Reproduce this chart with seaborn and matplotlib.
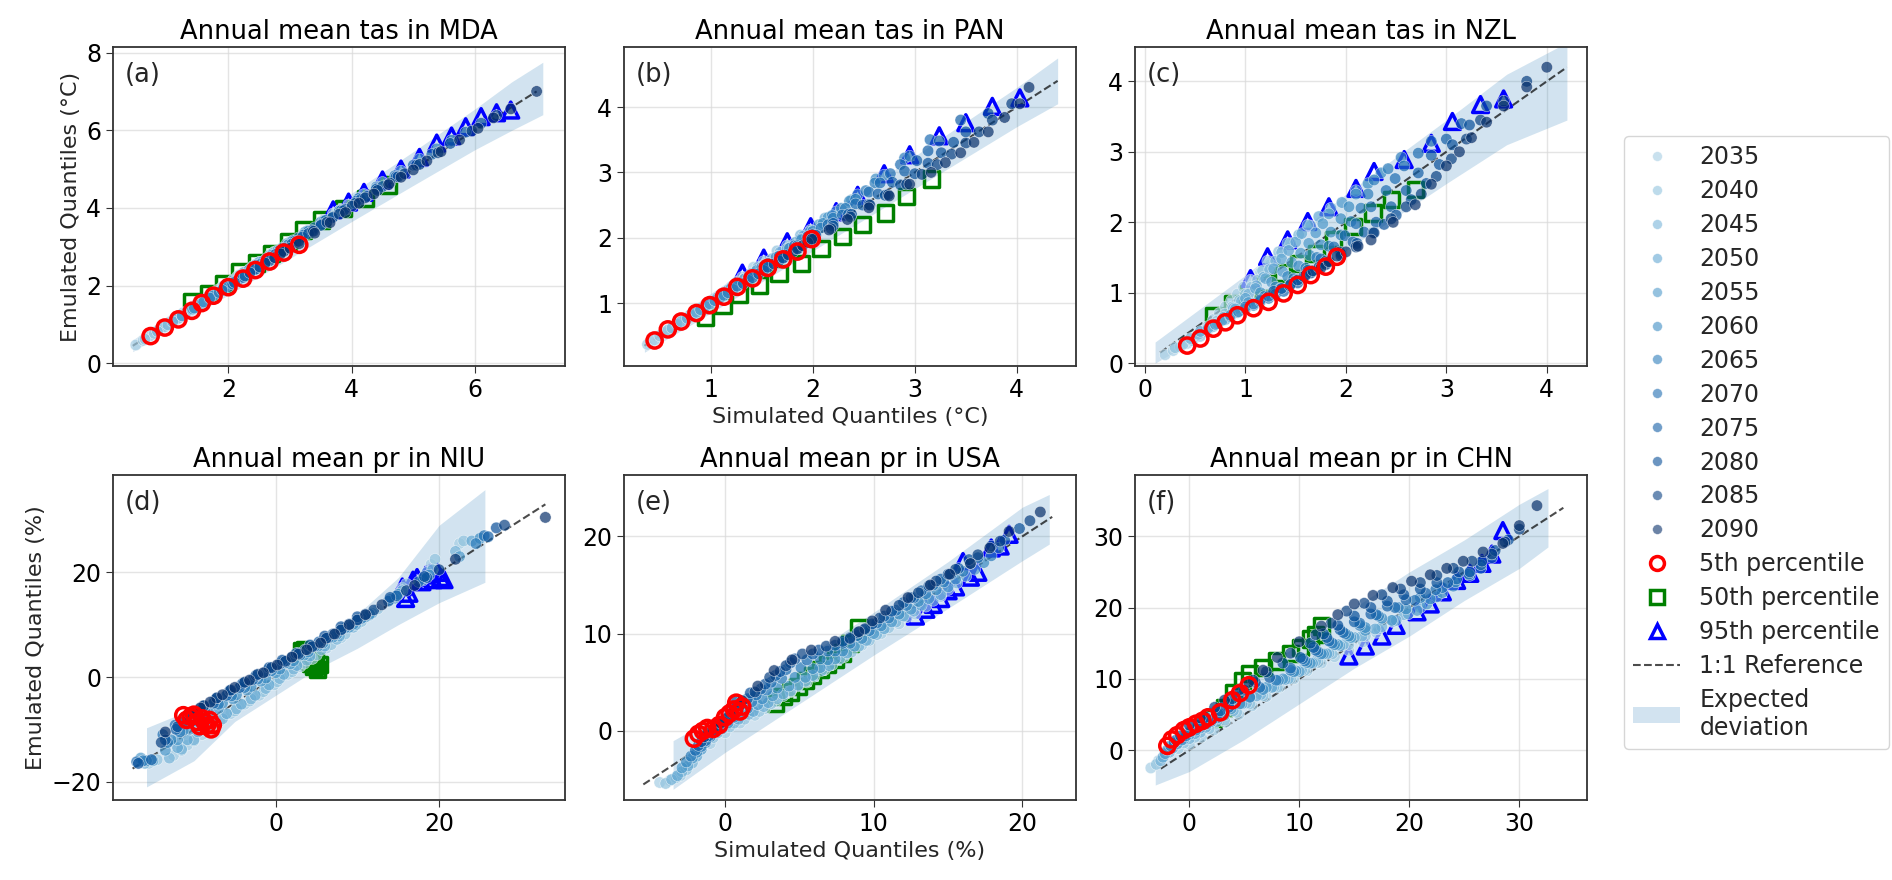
import matplotlib
matplotlib.use("Agg")
import matplotlib.pyplot as plt
from matplotlib.lines import Line2D
from matplotlib.patches import Patch
import numpy as np
import pandas as pd
import seaborn as sns

years = [2035, 2040, 2045, 2050, 2055, 2060, 2065, 2070, 2075, 2080, 2085, 2090]

# ---------------- (a) Annual mean tas in MDA ----------------
a_sim = [
    [0.50, 0.62, 0.74, 0.85, 0.95, 1.05, 1.15, 1.27, 1.41, 1.55, 1.70, 1.90, 2.15, 2.50, 3.00, 3.70],
    [0.65, 0.80, 0.97, 1.08, 1.20, 1.31, 1.42, 1.55, 1.68, 1.82, 1.98, 2.18, 2.40, 2.75, 3.30, 3.95],
    [0.85, 1.02, 1.19, 1.32, 1.45, 1.57, 1.68, 1.80, 1.92, 2.08, 2.25, 2.45, 2.68, 3.00, 3.55, 4.20],
    [1.10, 1.25, 1.41, 1.55, 1.68, 1.82, 1.95, 2.07, 2.19, 2.35, 2.50, 2.72, 2.95, 3.25, 3.80, 4.50],
    [1.25, 1.42, 1.57, 1.73, 1.90, 2.05, 2.20, 2.33, 2.46, 2.62, 2.80, 3.02, 3.25, 3.55, 4.10, 4.80],
    [1.45, 1.60, 1.76, 1.93, 2.10, 2.26, 2.42, 2.56, 2.70, 2.88, 3.05, 3.28, 3.50, 3.82, 4.40, 5.10],
    [1.70, 1.85, 2.00, 2.18, 2.35, 2.52, 2.68, 2.83, 2.97, 3.14, 3.30, 3.55, 3.80, 4.12, 4.70, 5.38],
    [1.90, 2.07, 2.24, 2.42, 2.60, 2.76, 2.92, 3.07, 3.22, 3.40, 3.58, 3.83, 4.08, 4.40, 5.00, 5.62],
    [2.10, 2.27, 2.44, 2.65, 2.85, 3.03, 3.20, 3.36, 3.51, 3.70, 3.90, 4.15, 4.40, 4.72, 5.30, 5.85],
    [2.35, 2.51, 2.67, 2.88, 3.10, 3.30, 3.50, 3.69, 3.87, 4.06, 4.25, 4.50, 4.75, 5.05, 5.60, 6.10],
    [2.60, 2.75, 2.90, 3.14, 3.38, 3.60, 3.80, 4.01, 4.22, 4.42, 4.62, 4.86, 5.10, 5.40, 5.95, 6.35],
    [2.85, 3.00, 3.15, 3.40, 3.65, 3.90, 4.12, 4.36, 4.60, 4.80, 5.00, 5.22, 5.45, 5.75, 6.05, 6.30, 6.58, 7.00],
]
a_emu = [
    [0.47, 0.59, 0.71, 0.83, 0.94, 1.06, 1.17, 1.30, 1.45, 1.60, 1.76, 1.97, 2.24, 2.60, 3.11, 3.85],
    [0.62, 0.77, 0.94, 1.07, 1.20, 1.32, 1.45, 1.59, 1.73, 1.88, 2.05, 2.27, 2.50, 2.87, 3.42, 4.08],
    [0.82, 0.99, 1.16, 1.31, 1.44, 1.58, 1.70, 1.84, 1.98, 2.15, 2.34, 2.55, 2.80, 3.12, 3.68, 4.35],
    [1.07, 1.22, 1.38, 1.53, 1.67, 1.83, 1.98, 2.12, 2.26, 2.43, 2.60, 2.83, 3.08, 3.38, 3.93, 4.66],
    [1.22, 1.40, 1.55, 1.72, 1.90, 2.07, 2.24, 2.39, 2.53, 2.70, 2.90, 3.13, 3.38, 3.68, 4.24, 4.95],
    [1.42, 1.58, 1.74, 1.92, 2.10, 2.28, 2.46, 2.62, 2.78, 2.97, 3.16, 3.40, 3.63, 3.95, 4.54, 5.26],
    [1.68, 1.82, 1.97, 2.17, 2.36, 2.55, 2.73, 2.90, 3.05, 3.23, 3.40, 3.66, 3.92, 4.25, 4.83, 5.52],
    [1.88, 2.04, 2.21, 2.41, 2.62, 2.80, 2.97, 3.14, 3.30, 3.49, 3.68, 3.93, 4.18, 4.50, 5.10, 5.74],
    [2.08, 2.25, 2.42, 2.66, 2.88, 3.07, 3.25, 3.42, 3.58, 3.77, 3.97, 4.22, 4.48, 4.80, 5.38, 5.95],
    [2.33, 2.48, 2.64, 2.87, 3.12, 3.34, 3.55, 3.75, 3.93, 4.12, 4.30, 4.55, 4.80, 5.10, 5.66, 6.18],
    [2.58, 2.72, 2.88, 3.14, 3.40, 3.63, 3.84, 4.05, 4.26, 4.45, 4.64, 4.88, 5.12, 5.42, 5.98, 6.38],
    [2.82, 2.96, 3.08, 3.35, 3.62, 3.88, 4.12, 4.36, 4.60, 4.79, 4.98, 5.21, 5.45, 5.75, 6.05, 6.32, 6.55, 7.00],
]
a_p5x = [0.74, 0.97, 1.19, 1.41, 1.57, 1.76, 2.00, 2.24, 2.44, 2.67, 2.90, 3.15]
a_p5y = [0.70, 0.92, 1.13, 1.35, 1.55, 1.74, 1.96, 2.18, 2.40, 2.62, 2.85, 3.05]
a_p50x = [1.41, 1.68, 1.92, 2.19, 2.46, 2.70, 2.97, 3.22, 3.51, 3.87, 4.22, 4.60]
a_p50y = [1.59, 1.80, 2.06, 2.36, 2.58, 2.83, 3.13, 3.43, 3.69, 3.99, 4.25, 4.59]
a_p95x = [3.70, 3.95, 4.20, 4.50, 4.80, 5.10, 5.38, 5.62, 5.85, 6.10, 6.35, 6.58]
a_p95y = [3.95, 4.15, 4.40, 4.72, 5.00, 5.30, 5.67, 5.85, 6.09, 6.35, 6.45, 6.52]
a_band_x = [0.45, 1.0, 2.0, 3.0, 4.0, 5.0, 6.0, 6.6, 7.1]
a_band_lo = [0.30, 0.82, 1.76, 2.70, 3.65, 4.58, 5.50, 6.00, 6.40]
a_band_hi = [0.60, 1.20, 2.25, 3.30, 4.38, 5.45, 6.55, 7.25, 7.75]
a_ref = [0.45, 7.0]

# ---------------- (b) Annual mean tas in PAN ----------------
b_sim = [
    [0.38, 0.42, 0.45, 0.52, 0.60, 0.69, 0.78, 0.86, 0.95, 1.02, 1.08, 1.14, 1.20, 1.26, 1.31, 1.42],
    [0.50, 0.55, 0.58, 0.66, 0.75, 0.85, 0.95, 1.04, 1.12, 1.19, 1.26, 1.33, 1.40, 1.46, 1.52, 1.65],
    [0.62, 0.67, 0.71, 0.80, 0.90, 1.00, 1.10, 1.19, 1.28, 1.36, 1.44, 1.52, 1.60, 1.68, 1.75, 1.88],
    [0.77, 0.82, 0.86, 0.96, 1.06, 1.17, 1.28, 1.38, 1.48, 1.57, 1.66, 1.75, 1.83, 1.91, 1.98, 2.12],
    [0.90, 0.95, 0.99, 1.10, 1.20, 1.33, 1.45, 1.56, 1.67, 1.78, 1.88, 1.97, 2.06, 2.15, 2.23, 2.38],
    [1.04, 1.09, 1.13, 1.25, 1.37, 1.50, 1.64, 1.77, 1.89, 2.00, 2.10, 2.19, 2.28, 2.36, 2.44, 2.62],
    [1.17, 1.22, 1.26, 1.39, 1.52, 1.67, 1.82, 1.95, 2.08, 2.20, 2.32, 2.42, 2.52, 2.61, 2.70, 2.90],
    [1.32, 1.37, 1.41, 1.55, 1.70, 1.85, 2.00, 2.15, 2.29, 2.42, 2.55, 2.66, 2.76, 2.86, 2.95, 3.15],
    [1.47, 1.52, 1.56, 1.71, 1.86, 2.03, 2.20, 2.35, 2.49, 2.64, 2.78, 2.90, 3.02, 3.13, 3.24, 3.45],
    [1.62, 1.67, 1.71, 1.86, 2.02, 2.20, 2.38, 2.55, 2.71, 2.86, 3.00, 3.13, 3.26, 3.38, 3.50, 3.72],
    [1.76, 1.81, 1.85, 2.01, 2.18, 2.37, 2.56, 2.74, 2.92, 3.07, 3.22, 3.36, 3.50, 3.63, 3.76, 3.95],
    [1.90, 1.95, 1.99, 2.16, 2.34, 2.55, 2.75, 2.95, 3.16, 3.30, 3.45, 3.58, 3.72, 3.88, 4.03, 4.12],
]
b_emu = [
    [0.37, 0.41, 0.44, 0.52, 0.60, 0.68, 0.76, 0.83, 0.90, 0.99, 1.08, 1.16, 1.25, 1.33, 1.40, 1.55],
    [0.50, 0.55, 0.59, 0.67, 0.76, 0.86, 0.95, 1.03, 1.10, 1.19, 1.28, 1.37, 1.46, 1.55, 1.64, 1.80],
    [0.62, 0.68, 0.72, 0.82, 0.92, 1.02, 1.12, 1.20, 1.28, 1.38, 1.48, 1.58, 1.68, 1.78, 1.88, 2.04],
    [0.77, 0.82, 0.86, 0.97, 1.08, 1.20, 1.31, 1.41, 1.50, 1.61, 1.72, 1.83, 1.93, 2.03, 2.12, 2.30],
    [0.90, 0.95, 0.99, 1.11, 1.23, 1.37, 1.50, 1.61, 1.72, 1.85, 1.98, 2.09, 2.20, 2.31, 2.40, 2.58],
    [1.04, 1.08, 1.12, 1.26, 1.40, 1.55, 1.70, 1.84, 1.97, 2.10, 2.22, 2.34, 2.45, 2.56, 2.66, 2.90],
    [1.16, 1.21, 1.26, 1.41, 1.56, 1.72, 1.88, 2.02, 2.15, 2.30, 2.45, 2.59, 2.72, 2.84, 2.96, 3.22],
    [1.30, 1.35, 1.39, 1.55, 1.72, 1.88, 2.05, 2.20, 2.35, 2.52, 2.70, 2.84, 2.98, 3.12, 3.25, 3.50],
    [1.45, 1.50, 1.55, 1.70, 1.86, 2.04, 2.22, 2.36, 2.50, 2.67, 2.85, 3.02, 3.18, 3.33, 3.48, 3.80],
    [1.60, 1.65, 1.69, 1.84, 2.00, 2.18, 2.36, 2.51, 2.65, 2.81, 2.98, 3.14, 3.30, 3.46, 3.62, 3.90],
    [1.74, 1.79, 1.83, 1.98, 2.14, 2.32, 2.50, 2.66, 2.82, 2.97, 3.12, 3.28, 3.45, 3.62, 3.80, 4.05],
    [1.88, 1.93, 1.98, 2.12, 2.28, 2.46, 2.64, 2.82, 3.00, 3.15, 3.30, 3.46, 3.62, 3.84, 4.05, 4.30],
]
b_p5x = [0.45, 0.58, 0.71, 0.86, 0.99, 1.13, 1.26, 1.41, 1.56, 1.71, 1.85, 1.99]
b_p5y = [0.43, 0.60, 0.72, 0.85, 0.97, 1.10, 1.25, 1.38, 1.54, 1.67, 1.79, 1.98]
b_p50x = [0.95, 1.12, 1.28, 1.48, 1.67, 1.89, 2.08, 2.29, 2.49, 2.71, 2.92, 3.16]
b_p50y = [0.79, 0.97, 1.13, 1.28, 1.46, 1.61, 1.84, 2.02, 2.20, 2.38, 2.63, 2.90]
b_p95x = [1.31, 1.52, 1.75, 1.98, 2.23, 2.44, 2.70, 2.95, 3.24, 3.50, 3.76, 4.03]
b_p95y = [1.46, 1.69, 1.94, 2.17, 2.40, 2.65, 2.98, 3.27, 3.56, 3.76, 4.01, 4.14]
b_band_x = [0.35, 1.0, 2.0, 3.0, 4.0, 4.4]
b_band_lo = [0.25, 0.85, 1.80, 2.75, 3.70, 4.05]
b_band_hi = [0.45, 1.15, 2.20, 3.25, 4.30, 4.75]
b_ref = [0.35, 4.4]

# ---------------- (c) Annual mean tas in NZL ----------------
c_sim = [
    [0.20, 0.28, 0.35, 0.42, 0.49, 0.55, 0.62, 0.68, 0.74, 0.80, 0.86, 0.92, 0.98, 1.05, 1.15, 1.25],
    [0.30, 0.38, 0.47, 0.55, 0.63, 0.72, 0.80, 0.87, 0.94, 1.00, 1.06, 1.12, 1.17, 1.22, 1.33, 1.45],
    [0.45, 0.53, 0.61, 0.68, 0.78, 0.88, 0.96, 1.03, 1.11, 1.18, 1.24, 1.30, 1.36, 1.42, 1.53, 1.65],
    [0.55, 0.63, 0.72, 0.80, 0.90, 1.00, 1.10, 1.20, 1.28, 1.36, 1.43, 1.50, 1.56, 1.62, 1.73, 1.85],
    [0.70, 0.77, 0.85, 0.92, 1.03, 1.15, 1.26, 1.37, 1.46, 1.55, 1.63, 1.70, 1.77, 1.83, 1.96, 2.10],
    [0.85, 0.93, 1.00, 1.08, 1.19, 1.30, 1.42, 1.53, 1.64, 1.75, 1.85, 1.95, 2.03, 2.10, 2.22, 2.35],
    [1.00, 1.08, 1.15, 1.23, 1.35, 1.48, 1.60, 1.71, 1.83, 1.95, 2.05, 2.15, 2.22, 2.28, 2.42, 2.55],
    [1.15, 1.23, 1.30, 1.38, 1.50, 1.62, 1.75, 1.88, 1.99, 2.10, 2.25, 2.40, 2.49, 2.58, 2.72, 2.85],
    [1.28, 1.36, 1.44, 1.52, 1.66, 1.80, 1.94, 2.07, 2.18, 2.30, 2.45, 2.60, 2.72, 2.85, 3.00, 3.15],
    [1.45, 1.52, 1.58, 1.65, 1.80, 1.95, 2.11, 2.27, 2.38, 2.50, 2.65, 2.80, 2.93, 3.06, 3.23, 3.40],
    [1.60, 1.67, 1.73, 1.80, 1.95, 2.10, 2.28, 2.45, 2.60, 2.75, 2.90, 3.05, 3.20, 3.34, 3.57, 3.80],
    [1.75, 1.83, 1.91, 2.00, 2.12, 2.25, 2.47, 2.69, 2.85, 3.00, 3.13, 3.25, 3.40, 3.57, 3.80, 4.00],
]
c_emu = [
    [0.12, 0.18, 0.23, 0.28, 0.35, 0.42, 0.52, 0.62, 0.71, 0.80, 0.89, 0.98, 1.08, 1.18, 1.29, 1.40],
    [0.22, 0.27, 0.32, 0.38, 0.48, 0.60, 0.70, 0.80, 0.89, 0.98, 1.08, 1.18, 1.31, 1.45, 1.58, 1.70],
    [0.35, 0.41, 0.47, 0.52, 0.65, 0.78, 0.88, 0.98, 1.10, 1.22, 1.33, 1.45, 1.57, 1.70, 1.82, 1.95],
    [0.45, 0.50, 0.56, 0.62, 0.77, 0.92, 1.06, 1.20, 1.34, 1.48, 1.60, 1.72, 1.84, 1.96, 2.08, 2.20],
    [0.55, 0.61, 0.66, 0.72, 0.86, 1.00, 1.15, 1.30, 1.43, 1.56, 1.70, 1.85, 1.98, 2.12, 2.28, 2.45],
    [0.68, 0.73, 0.77, 0.82, 0.95, 1.08, 1.23, 1.38, 1.53, 1.68, 1.86, 2.05, 2.22, 2.40, 2.55, 2.70],
    [0.80, 0.84, 0.88, 0.92, 1.06, 1.20, 1.35, 1.50, 1.66, 1.82, 2.01, 2.20, 2.40, 2.60, 2.76, 2.92],
    [0.90, 0.95, 0.98, 1.02, 1.17, 1.32, 1.48, 1.65, 1.81, 1.98, 2.22, 2.45, 2.62, 2.80, 2.98, 3.15],
    [1.02, 1.06, 1.10, 1.14, 1.30, 1.45, 1.58, 1.72, 1.86, 2.00, 2.22, 2.45, 2.70, 2.95, 3.18, 3.40],
    [1.12, 1.18, 1.23, 1.28, 1.42, 1.55, 1.70, 1.85, 1.97, 2.10, 2.32, 2.55, 2.82, 3.10, 3.38, 3.65],
    [1.25, 1.31, 1.36, 1.40, 1.52, 1.65, 1.85, 2.05, 2.22, 2.40, 2.65, 2.90, 3.18, 3.45, 3.72, 4.00],
    [1.35, 1.44, 1.52, 1.58, 1.66, 1.75, 2.00, 2.25, 2.54, 2.80, 3.00, 3.20, 3.42, 3.65, 3.92, 4.20],
]
c_p5x = [0.42, 0.55, 0.68, 0.80, 0.92, 1.08, 1.23, 1.38, 1.52, 1.65, 1.80, 1.91]
c_p5y = [0.25, 0.35, 0.49, 0.58, 0.68, 0.78, 0.87, 0.99, 1.11, 1.25, 1.37, 1.51]
c_p50x = [0.68, 0.87, 1.03, 1.20, 1.37, 1.53, 1.71, 1.88, 2.07, 2.27, 2.45, 2.69]
c_p50y = [0.68, 0.85, 0.99, 1.13, 1.28, 1.42, 1.56, 1.75, 1.94, 2.13, 2.32, 2.46]
c_p95x = [1.05, 1.22, 1.42, 1.62, 1.83, 2.10, 2.28, 2.58, 2.85, 3.06, 3.34, 3.57]
c_p95y = [1.20, 1.51, 1.75, 2.01, 2.22, 2.48, 2.72, 2.89, 3.12, 3.43, 3.67, 3.75]
c_band_x = [0.10, 1.0, 2.0, 3.0, 3.6, 4.2]
c_band_lo = [0.00, 0.75, 1.60, 2.55, 3.10, 3.45]
c_band_hi = [0.30, 1.25, 2.40, 3.45, 4.10, 4.55]
c_ref = [0.15, 4.2]

# ---------------- (d) Annual mean pr in NIU ----------------
d_sim = [
    [-15.5, -12.5, -10.8, -9.0, -7.2, -5.5, -3.8, -2.0, -0.2, 1.5, 3.0, 4.5, 6.2, 8.0, 10.0, 12.0, 15.5, 19.0, 22.5],
    [-14.5, -11.5, -10.0, -8.5, -6.8, -5.0, -3.2, -1.5, 0.2, 2.0, 3.5, 5.0, 6.8, 8.5, 10.5, 12.5, 16.0, 19.5, 23.0],
    [-16.0, -13.0, -11.5, -10.0, -8.2, -6.5, -4.8, -3.0, -1.2, 0.5, 2.2, 3.8, 5.6, 7.5, 9.5, 11.5, 15.0, 18.5, 22.0],
    [-15.0, -12.0, -10.8, -9.5, -7.8, -6.0, -4.2, -2.5, -0.8, 1.0, 2.6, 4.2, 6.0, 7.8, 9.8, 11.8, 15.5, 19.2, 24.0],
    [-16.5, -13.5, -12.0, -10.5, -8.8, -7.0, -5.2, -3.5, -1.8, 0.0, 1.8, 3.5, 5.2, 7.0, 9.0, 11.0, 14.5, 18.0, 22.5],
    [-15.8, -12.8, -11.3, -9.8, -8.2, -6.5, -4.8, -3.0, -1.2, 0.5, 2.2, 4.0, 5.8, 7.5, 9.5, 11.5, 15.0, 18.8, 25.0],
    [-16.2, -13.2, -11.7, -10.2, -8.6, -7.0, -5.4, -3.8, -2.2, -0.5, 1.2, 3.0, 4.8, 6.5, 8.5, 10.5, 14.0, 18.0, 24.5],
    [-17.0, -13.8, -12.3, -10.8, -9.2, -7.5, -5.8, -4.2, -2.5, -0.8, 1.0, 2.8, 4.5, 6.2, 8.1, 10.0, 13.8, 17.5, 25.5],
    [-15.2, -12.2, -10.7, -9.2, -7.6, -6.0, -4.4, -2.8, -1.2, 0.5, 2.0, 3.6, 5.3, 7.0, 9.0, 11.0, 14.8, 18.5, 26.0],
    [-16.8, -13.5, -12.0, -10.5, -8.8, -7.2, -5.6, -4.0, -2.4, -0.8, 0.8, 2.5, 4.2, 6.0, 8.0, 10.0, 14.0, 18.2, 27.0],
    [-14.0, -11.2, -10.0, -8.8, -7.2, -5.5, -3.8, -2.2, -0.5, 1.2, 2.8, 4.5, 6.2, 8.0, 10.0, 12.0, 16.0, 20.0, 28.0],
    [-13.5, -10.5, -9.2, -8.0, -6.5, -5.0, -3.2, -1.5, 0.2, 2.0, 3.8, 5.5, 7.2, 9.0, 11.0, 13.0, 17.0, 22.0, 33.0],
]
d_emu = [
    [-16.5, -15.0, -13.0, -11.0, -9.0, -7.0, -5.2, -3.5, -1.5, 0.5, 2.0, 3.5, 5.5, 7.5, 10.0, 12.5, 17.0, 21.5, 25.5],
    [-15.8, -14.0, -12.2, -10.3, -8.4, -6.5, -4.6, -2.8, -0.9, 1.0, 2.6, 4.2, 6.2, 8.2, 10.6, 13.0, 17.8, 22.5, 26.0],
    [-16.5, -15.5, -13.8, -12.0, -10.0, -8.0, -6.1, -4.2, -2.2, -0.3, 1.5, 3.2, 5.2, 7.2, 9.5, 11.8, 15.8, 20.0, 24.0],
    [-16.0, -13.5, -12.0, -10.5, -8.8, -7.0, -5.2, -3.5, -1.5, 0.5, 2.2, 4.0, 5.9, 7.8, 10.0, 12.2, 16.5, 20.5, 26.0],
    [-15.5, -14.0, -12.0, -10.0, -8.0, -6.0, -4.2, -2.5, -0.8, 0.8, 2.5, 4.2, 5.9, 7.6, 9.5, 11.5, 15.0, 18.5, 23.0],
    [-16.0, -12.0, -10.2, -8.5, -6.8, -5.0, -3.4, -1.8, -0.2, 1.5, 3.1, 4.8, 6.5, 8.2, 10.1, 12.0, 15.8, 19.5, 26.5],
    [-16.0, -12.5, -10.5, -8.5, -6.8, -5.2, -3.6, -2.0, -0.4, 1.2, 2.7, 4.2, 5.9, 7.5, 9.4, 11.2, 14.8, 18.8, 25.5],
    [-16.2, -11.0, -9.2, -7.5, -6.0, -4.5, -3.0, -1.5, 0.0, 1.5, 3.0, 4.6, 6.0, 7.5, 9.2, 11.0, 14.5, 18.2, 27.0],
    [-15.8, -10.0, -8.2, -6.5, -5.0, -3.5, -2.0, -0.5, 1.0, 2.5, 3.8, 5.2, 6.7, 8.2, 10.1, 12.0, 15.5, 19.0, 26.8],
    [-16.5, -12.0, -9.5, -7.0, -5.5, -4.0, -2.6, -1.2, 0.3, 1.8, 3.2, 4.5, 6.1, 7.8, 9.6, 11.5, 15.2, 19.2, 28.5],
    [-12.5, -8.5, -7.0, -5.5, -4.0, -2.5, -1.0, 0.5, 1.8, 3.0, 4.4, 5.8, 7.4, 9.0, 10.9, 12.8, 16.5, 20.5, 29.0],
    [-10.5, -7.0, -5.9, -4.8, -3.4, -2.0, -0.6, 0.8, 2.3, 3.8, 5.2, 6.5, 8.2, 10.0, 11.9, 13.8, 17.5, 22.5, 30.5],
]
d_p5x = [-11.3, -10.9, -10.4, -10.0, -9.6, -9.3, -9.0, -8.7, -8.4, -8.1, -7.9, -7.7]
d_p5y = [-7.3, -8.2, -7.6, -7.2, -8.6, -9.4, -7.9, -8.6, -9.3, -8.2, -10.0, -9.2]
d_p50x = [3.2, 3.4, 3.6, 3.8, 4.0, 4.2, 4.3, 4.5, 4.7, 4.9, 5.1, 5.3]
d_p50y = [5.0, 4.4, 5.2, 4.0, 3.2, 4.6, 2.6, 3.6, 2.0, 3.0, 1.4, 2.4]
d_p95x = [15.5, 15.9, 16.3, 16.8, 17.3, 17.9, 18.4, 18.9, 19.3, 19.8, 20.2, 20.6]
d_p95y = [17.2, 15.0, 16.0, 18.5, 19.0, 18.2, 19.5, 19.8, 18.6, 20.0, 19.0, 18.6]
d_band_x = [-15.8, -10.0, -5.0, 0.0, 5.0, 10.0, 15.0, 20.0, 25.6]
d_band_lo = [-21.0, -16.0, -8.5, -3.5, 1.5, 5.5, 10.0, 14.2, 18.1]
d_band_hi = [-9.7, -6.0, -1.5, 2.5, 7.5, 12.0, 19.0, 29.0, 35.8]
d_ref = [-17.5, 33.0]

# ---------------- (e) Annual mean pr in USA ----------------
e_sim = [
    [-4.4, -3.7, -3.0, -2.1, -1.0, 0.0, 1.0, 2.0, 2.7, 3.4, 4.4, 5.5, 6.7, 8.0, 9.2, 10.5, 11.7, 12.8, 14.5],
    [-4.0, -3.3, -2.6, -1.8, -0.8, 0.3, 1.3, 2.3, 3.1, 3.9, 4.9, 6.0, 7.2, 8.5, 9.7, 11.0, 12.2, 13.5, 15.0],
    [-3.6, -2.9, -2.2, -1.5, -0.5, 0.6, 1.6, 2.6, 3.5, 4.4, 5.4, 6.5, 7.7, 9.0, 10.2, 11.5, 12.7, 14.0, 15.6],
    [-3.2, -2.5, -1.9, -1.2, -0.2, 0.9, 1.9, 2.9, 3.9, 4.9, 5.9, 7.0, 8.2, 9.5, 10.7, 12.0, 13.2, 14.5, 16.2],
    [-2.9, -2.2, -1.6, -0.8, 0.2, 1.2, 2.2, 3.2, 4.3, 5.4, 6.4, 7.4, 8.7, 10.0, 11.2, 12.5, 13.7, 15.0, 16.8],
    [-2.6, -1.9, -1.3, -0.4, 0.6, 1.5, 2.5, 3.5, 4.7, 5.9, 6.9, 7.9, 9.2, 10.5, 11.7, 13.0, 14.2, 15.5, 17.4],
    [-2.3, -1.6, -1.0, 0.0, 0.9, 1.8, 2.8, 3.8, 5.1, 6.4, 7.4, 8.4, 9.7, 11.0, 12.2, 13.5, 14.7, 16.0, 17.9],
    [-2.0, -1.3, -0.7, 0.3, 1.2, 2.1, 3.1, 4.1, 5.5, 6.9, 7.9, 8.9, 10.2, 11.5, 12.7, 14.0, 15.2, 16.5, 18.4],
    [-1.8, -1.1, -0.4, 0.6, 1.5, 2.4, 3.4, 4.4, 5.9, 7.4, 8.4, 9.4, 10.7, 12.0, 13.2, 14.5, 15.7, 17.0, 18.8],
    [-1.6, -0.8, -0.1, 0.75, 1.7, 2.7, 3.7, 4.7, 6.3, 7.9, 8.9, 9.9, 11.2, 12.5, 13.7, 15.0, 16.4, 17.9, 19.8],
    [-1.4, -0.6, 0.2, 1.0, 2.0, 3.0, 4.1, 5.2, 6.8, 8.4, 9.4, 10.4, 11.7, 13.0, 14.2, 15.5, 17.0, 18.5, 20.5],
    [-1.2, -0.3, 0.5, 1.15, 2.2, 3.3, 4.5, 5.8, 7.4, 9.0, 9.9, 10.8, 12.3, 13.8, 15.1, 16.5, 17.8, 19.1, 21.2],
]
e_emu = [
    [-5.3, -5.1, -4.6, -2.5, -1.3, -0.2, 0.8, 1.6, 2.3, 3.0, 4.0, 5.0, 6.3, 7.6, 8.8, 10.0, 11.0, 12.0, 13.8],
    [-5.4, -4.8, -4.0, -1.9, -0.7, 0.4, 1.2, 2.0, 2.8, 3.6, 4.6, 5.6, 6.8, 8.1, 9.3, 10.6, 11.7, 12.8, 14.5],
    [-5.0, -4.2, -3.3, -1.3, -0.2, 0.8, 1.7, 2.5, 3.3, 4.1, 5.1, 6.2, 7.4, 8.7, 9.9, 11.2, 12.3, 13.4, 15.2],
    [-4.6, -3.6, -2.6, -0.8, 0.2, 1.2, 2.0, 2.9, 3.8, 4.7, 5.7, 6.7, 8.0, 9.3, 10.5, 11.8, 12.9, 14.0, 15.9],
    [-3.8, -2.8, -1.9, -0.2, 0.8, 1.8, 2.7, 3.6, 4.6, 5.5, 6.5, 7.4, 8.7, 10.0, 11.2, 12.5, 13.6, 14.8, 16.6],
    [-3.2, -2.2, -1.2, 0.4, 1.4, 2.3, 3.3, 4.4, 5.5, 6.4, 7.3, 8.2, 9.5, 10.8, 12.0, 13.3, 14.5, 15.6, 17.3],
    [-2.6, -1.6, -0.6, 1.2, 2.1, 3.0, 4.2, 5.4, 6.5, 7.4, 8.2, 9.0, 10.3, 11.6, 12.9, 14.1, 15.3, 16.4, 18.0],
    [-2.0, -1.0, -0.1, 1.8, 2.8, 3.7, 5.0, 6.3, 7.3, 8.2, 9.0, 9.8, 11.1, 12.4, 13.7, 15.0, 16.1, 17.2, 18.8],
    [-1.5, -0.5, 0.4, 2.3, 3.3, 4.3, 5.7, 7.0, 7.9, 8.8, 9.6, 10.4, 11.8, 13.2, 14.4, 15.6, 16.7, 17.8, 19.6],
    [-1.1, -0.1, 0.9, 3.0, 3.9, 4.8, 6.1, 7.4, 8.3, 9.2, 10.1, 11.0, 12.3, 13.7, 14.9, 16.1, 17.6, 19.0, 20.8],
    [-0.6, 0.4, 1.4, 2.6, 4.0, 5.5, 6.7, 7.9, 8.7, 9.5, 10.5, 11.6, 12.9, 14.2, 15.4, 16.6, 18.1, 19.5, 21.6],
    [-0.2, 0.8, 1.9, 3.1, 4.6, 6.2, 7.3, 8.3, 9.2, 10.2, 11.3, 12.4, 13.7, 15.0, 16.1, 17.2, 18.8, 20.5, 22.5],
]
e_p5x = [-2.1, -1.8, -1.5, -1.2, -0.8, -0.4, 0.0, 0.3, 0.6, 0.75, 1.0, 1.15]
e_p5y = [-0.8, -0.3, 0.0, 0.3, 0.2, 0.6, 1.4, 1.8, 2.2, 2.9, 2.0, 2.5]
e_p50x = [3.4, 3.9, 4.4, 4.9, 5.4, 5.9, 6.4, 6.9, 7.4, 7.9, 8.4, 9.0]
e_p50y = [2.8, 3.5, 4.0, 4.6, 5.2, 5.7, 6.3, 6.8, 7.3, 8.0, 9.0, 10.6]
e_p95x = [12.8, 13.5, 14.0, 14.5, 15.0, 15.5, 16.0, 16.5, 17.0, 17.9, 18.5, 19.1]
e_p95y = [11.8, 12.5, 13.0, 13.6, 14.4, 14.8, 17.4, 15.8, 16.3, 18.8, 19.0, 20.2]
e_band_x = [-3.5, 0.0, 5.0, 10.0, 15.0, 20.0, 21.8]
e_band_lo = [-6.0, -2.2, 2.8, 7.8, 12.6, 17.5, 19.2]
e_band_hi = [-1.0, 2.0, 7.2, 12.2, 17.4, 23.0, 24.3]
e_ref = [-5.5, 22.0]

# ---------------- (f) Annual mean pr in CHN ----------------
f_sim = [
    [-3.5, -2.8, -2.0, -1.0, 0.0, 1.1, 2.2, 3.3, 4.5, 5.7, 7.0, 8.2, 9.5, 10.7, 12.0, 13.2, 14.5, 15.8, 17.0],
    [-3.0, -2.3, -1.6, -0.5, 0.5, 1.8, 3.2, 4.3, 5.5, 6.7, 8.0, 9.2, 10.5, 11.7, 13.0, 14.5, 16.0, 17.2, 18.5],
    [-2.6, -1.8, -1.1, 0.0, 1.0, 2.5, 4.0, 5.2, 6.5, 7.7, 9.0, 10.2, 11.5, 12.7, 14.0, 15.7, 17.5, 18.5, 19.5],
    [-2.4, -1.5, -0.5, 0.5, 1.5, 3.2, 4.8, 6.1, 7.5, 8.7, 10.0, 11.2, 12.5, 13.7, 15.0, 16.9, 18.8, 19.9, 21.0],
    [-2.2, -1.1, 0.0, 1.0, 2.0, 3.8, 5.5, 7.0, 8.5, 9.7, 11.0, 12.2, 13.5, 14.7, 16.0, 18.4, 20.7, 21.6, 22.5],
    [-2.0, -0.7, 0.6, 1.6, 2.5, 4.6, 6.7, 8.1, 9.5, 10.7, 12.0, 13.2, 14.5, 16.0, 17.5, 19.7, 21.9, 23.0, 24.0],
    [-1.7, -0.3, 1.2, 2.1, 3.0, 5.5, 7.9, 9.2, 10.5, 11.7, 13.0, 14.2, 15.5, 17.2, 19.0, 21.0, 23.0, 24.2, 25.5],
    [-1.4, 0.1, 1.7, 2.6, 3.6, 6.4, 9.2, 10.3, 11.5, 12.7, 14.0, 15.5, 17.0, 18.7, 20.5, 22.4, 24.3, 25.4, 26.5],
    [-1.2, 0.8, 2.8, 3.6, 4.5, 7.3, 10.1, 11.3, 12.5, 13.7, 15.0, 16.5, 18.0, 19.7, 21.5, 23.5, 25.5, 26.5, 27.5],
    [-0.8, 1.5, 3.9, 5.0, 6.0, 8.5, 11.0, 12.2, 13.5, 15.0, 16.5, 18.0, 19.5, 21.0, 22.5, 24.5, 26.6, 27.8, 29.0],
    [0.0, 2.3, 4.6, 5.8, 7.0, 9.2, 11.5, 12.9, 14.3, 15.9, 17.5, 19.2, 21.0, 22.5, 24.0, 25.7, 27.5, 28.7, 30.0],
    [1.0, 3.2, 5.4, 6.7, 8.0, 10.0, 12.0, 13.5, 15.0, 16.7, 18.5, 20.2, 21.9, 23.4, 24.9, 26.7, 28.5, 30.0, 31.6],
]
f_emu = [
    [-2.5, -1.5, -0.5, 0.2, 0.8, 1.8, 2.8, 3.9, 5.0, 6.2, 7.5, 8.8, 10.0, 11.1, 12.2, 13.1, 14.0, 15.2, 16.5],
    [-2.0, -0.9, 0.2, 1.0, 1.8, 3.0, 4.2, 5.3, 6.5, 7.6, 8.8, 10.0, 11.2, 12.3, 13.5, 14.8, 16.0, 17.0, 18.0],
    [-1.5, -0.3, 0.8, 1.6, 2.5, 4.0, 5.5, 6.6, 7.8, 8.9, 10.0, 11.2, 12.5, 13.6, 14.8, 16.0, 17.3, 18.2, 19.0],
    [-1.0, 0.3, 1.5, 2.3, 3.2, 4.9, 6.5, 7.6, 8.8, 9.9, 11.0, 12.2, 13.5, 14.6, 15.8, 17.0, 18.2, 19.1, 20.0],
    [-0.5, 0.9, 2.2, 3.1, 4.0, 5.8, 7.5, 8.8, 10.0, 11.1, 12.2, 13.5, 14.8, 15.8, 16.8, 18.2, 19.6, 20.5, 21.5],
    [0.0, 1.4, 2.8, 3.7, 4.5, 6.5, 8.5, 9.8, 11.0, 12.3, 13.5, 14.8, 16.0, 17.2, 18.5, 19.8, 21.2, 22.1, 23.0],
    [0.6, 2.0, 3.5, 4.3, 5.0, 7.4, 9.8, 11.2, 12.5, 13.8, 15.0, 16.3, 17.5, 18.8, 20.0, 21.4, 22.8, 23.6, 24.5],
    [1.0, 2.6, 4.2, 5.1, 6.0, 8.8, 11.5, 12.8, 14.0, 15.3, 16.5, 17.8, 19.0, 20.0, 21.0, 22.5, 24.0, 24.7, 25.5],
    [1.4, 3.5, 5.5, 6.5, 7.5, 10.2, 13.0, 14.4, 15.8, 16.9, 18.0, 19.1, 20.2, 21.1, 22.0, 23.5, 25.0, 26.0, 27.0],
    [2.0, 4.6, 7.2, 8.4, 9.5, 12.2, 15.0, 16.3, 17.5, 18.8, 20.0, 20.9, 21.8, 22.6, 23.5, 25.0, 26.5, 28.0, 29.5],
    [3.5, 6.0, 8.5, 9.8, 11.0, 13.6, 16.2, 17.8, 19.5, 20.6, 21.8, 22.6, 23.5, 24.5, 25.5, 26.5, 27.5, 29.2, 31.0],
    [4.5, 7.0, 9.5, 11.2, 13.0, 15.2, 17.4, 19.0, 20.5, 21.7, 22.8, 23.7, 24.6, 25.5, 26.5, 27.8, 29.0, 31.5, 34.3],
]
f_p5x = [-2.0, -1.6, -1.1, -0.5, 0.0, 0.6, 1.2, 1.7, 2.8, 3.9, 4.6, 5.4]
f_p5y = [0.6, 1.5, 2.1, 2.8, 3.2, 3.7, 4.1, 4.6, 5.3, 7.0, 8.0, 9.1]
f_p50x = [2.2, 3.2, 4.0, 4.8, 5.5, 6.7, 7.9, 9.2, 10.1, 11.0, 11.5, 12.0]
f_p50y = [4.5, 6.0, 8.0, 9.8, 10.7, 11.6, 12.5, 13.5, 14.4, 15.6, 16.2, 17.4]
f_p95x = [14.5, 16.0, 17.5, 18.8, 20.7, 21.9, 23.0, 24.3, 25.5, 26.6, 27.5, 28.5]
f_p95y = [13.2, 14.6, 16.0, 17.5, 19.4, 20.5, 22.2, 23.8, 24.8, 26.2, 27.5, 30.8]
f_band_x = [-3.1, 0.0, 5.0, 10.0, 15.0, 20.0, 25.0, 30.0, 32.6]
f_band_lo = [-4.9, -3.0, 1.5, 6.5, 11.5, 16.0, 21.0, 25.5, 28.5]
f_band_hi = [-0.9, 4.0, 9.5, 15.0, 20.0, 25.0, 29.5, 34.5, 36.7]
f_ref = [-2.6, 34.0]

titles = ["Annual mean tas in MDA", "Annual mean tas in PAN", "Annual mean tas in NZL",
          "Annual mean pr in NIU", "Annual mean pr in USA", "Annual mean pr in CHN"]
tags = ["(a)", "(b)", "(c)", "(d)", "(e)", "(f)"]
xlims = [(0.13, 7.46), (0.15, 4.58), (-0.10, 4.40), (-19.9, 35.4), (-6.8, 23.6), (-4.94, 36.15)]
ylims = [(-0.07, 8.13), (0.04, 4.91), (-0.04, 4.48), (-23.5, 38.6), (-7.1, 26.3), (-7.0, 38.6)]
xticks = [[2, 4, 6], [1, 2, 3, 4], [0, 1, 2, 3, 4], [0, 20], [0, 10, 20], [0, 10, 20, 30]]
yticks = [[0, 2, 4, 6, 8], [1, 2, 3, 4], [0, 1, 2, 3, 4], [-20, 0, 20], [0, 10, 20], [0, 10, 20, 30]]

panels = [
    (a_sim, a_emu, a_p5x, a_p5y, a_p50x, a_p50y, a_p95x, a_p95y, a_band_x, a_band_lo, a_band_hi, a_ref),
    (b_sim, b_emu, b_p5x, b_p5y, b_p50x, b_p50y, b_p95x, b_p95y, b_band_x, b_band_lo, b_band_hi, b_ref),
    (c_sim, c_emu, c_p5x, c_p5y, c_p50x, c_p50y, c_p95x, c_p95y, c_band_x, c_band_lo, c_band_hi, c_ref),
    (d_sim, d_emu, d_p5x, d_p5y, d_p50x, d_p50y, d_p95x, d_p95y, d_band_x, d_band_lo, d_band_hi, d_ref),
    (e_sim, e_emu, e_p5x, e_p5y, e_p50x, e_p50y, e_p95x, e_p95y, e_band_x, e_band_lo, e_band_hi, e_ref),
    (f_sim, f_emu, f_p5x, f_p5y, f_p50x, f_p50y, f_p95x, f_p95y, f_band_x, f_band_lo, f_band_hi, f_ref),
]

sns.set_style("ticks")
plt.rcParams['font.family'] = ['DejaVu Sans']

blues = sns.color_palette("Blues", as_cmap=True)
palette = {yr: blues(v) for yr, v in zip(years, np.linspace(0.35, 1.0, len(years)))}

W, H = 1892, 880
fig = plt.figure(figsize=(W / 100, H / 100), dpi=100)

col_left = [113, 624, 1135]
col_w = 452
row_top = [47.5, 475]
row_bot = [366, 800]

for i, (sim, emu, p5x, p5y, p50x, p50y, p95x, p95y, bx, blo, bhi, ref) in enumerate(panels):
    r, c = divmod(i, 3)
    ax = fig.add_axes([col_left[c] / W, 1 - row_bot[r] / H, col_w / W, (row_bot[r] - row_top[r]) / H])

    ax.fill_between(bx, blo, bhi, color='tab:blue', alpha=0.2, lw=0, zorder=1)
    ax.plot(ref, ref, ls='--', color='k', alpha=0.7, lw=1.5, zorder=2)

    rows = []
    for yr, xs, ys in zip(years, sim, emu):
        for xv, yv in zip(xs, ys):
            rows.append((yr, xv, yv))
    df = pd.DataFrame(rows, columns=['year', 'sim', 'emu'])

    # 50th / 95th markers sit under the quantile dots, 5th on top
    sns.scatterplot(x=p50x, y=p50y, marker='s', s=120, facecolors='none', edgecolor='green',
                    linewidth=2.5, ax=ax, zorder=2.5)
    sns.scatterplot(x=p95x, y=p95y, marker='^', s=130, facecolors='none', edgecolor='blue',
                    linewidth=2.5, ax=ax, zorder=2.5)
    sns.scatterplot(data=df, x='sim', y='emu', hue='year', palette=palette, s=68, alpha=0.7,
                    edgecolor='white', linewidth=0.4, legend=False, ax=ax, zorder=3)
    sns.scatterplot(x=p5x, y=p5y, marker='o', s=120, facecolors='none', edgecolor='red',
                    linewidth=2.5, ax=ax, zorder=4)

    ax.set_xlim(*xlims[i])
    ax.set_ylim(*ylims[i])
    ax.set_xticks(xticks[i])
    ax.set_yticks(yticks[i])
    ax.grid(True, color='#d9d9d9', lw=1, alpha=0.7)
    ax.set_axisbelow(True)
    ax.tick_params(labelsize=17, length=5, color='#333333', labelcolor='black')
    for sp in ax.spines.values():
        sp.set_color('#333333')
        sp.set_linewidth(1.3)
    ax.set_title(titles[i], fontsize=18.5, color='black')
    ax.text(0.025, 0.955, tags[i], transform=ax.transAxes, fontsize=18.5, va='top', ha='left')
    ax.set_xlabel('')
    ax.set_ylabel('')

fig.axes[0].set_ylabel('Emulated Quantiles (°C)', fontsize=16)
fig.axes[1].set_xlabel('Simulated Quantiles (°C)', fontsize=16)
fig.axes[3].set_ylabel('Emulated Quantiles (%)', fontsize=16)
fig.axes[4].set_xlabel('Simulated Quantiles (%)', fontsize=16)

handles = [Line2D([], [], ls='', marker='o', markersize=7, markerfacecolor=palette[yr],
                  markeredgecolor='white', markeredgewidth=0.4, alpha=0.6) for yr in years]
labels = [str(yr) for yr in years]
handles += [
    Line2D([], [], ls='', marker='o', markersize=10, markerfacecolor='none', markeredgecolor='red', markeredgewidth=2.5),
    Line2D([], [], ls='', marker='s', markersize=10, markerfacecolor='none', markeredgecolor='green', markeredgewidth=2.5),
    Line2D([], [], ls='', marker='^', markersize=10, markerfacecolor='none', markeredgecolor='blue', markeredgewidth=2.5),
    Line2D([], [], ls='--', color='k', alpha=0.7, lw=1.5),
    Patch(facecolor='tab:blue', alpha=0.2, edgecolor='none'),
]
labels += ['5th percentile', '50th percentile', '95th percentile', '1:1 Reference', 'Expected\ndeviation']
fig.legend(handles, labels, loc='upper left', bbox_to_anchor=(1612 / W, 1 - 124 / H),
           fontsize=17, labelspacing=0.42, frameon=True)

fig.savefig('out.png', dpi=100)
